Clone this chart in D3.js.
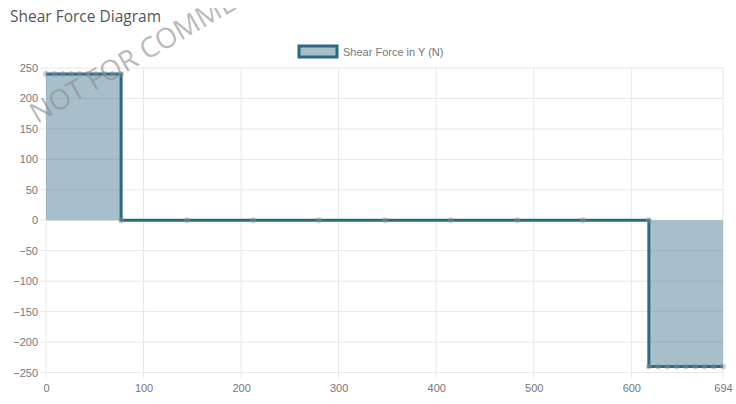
<!DOCTYPE html>
<html><head><meta charset="utf-8">
<script src="https://cdn.jsdelivr.net/npm/d3@7"></script>
<style>
html,body{margin:0;padding:0;background:#fff;}
svg{display:block;}
</style></head>
<body>
<svg id="c" width="736" height="404"></svg>
<script>
const chartTitle = "Shear Force Diagram";
const seriesName = "Shear Force in Y (N)";
const watermark = "NOT FOR COMMERCIAL USE";
const positions = [0, 8.6, 17.1, 25.7, 34.2, 42.8, 51.3, 59.9, 68.4, 77,
                   77, 144.6, 212.2, 279.9, 347.5, 415.1, 482.8, 550.4, 618,
                   618, 627.5, 637, 646.5, 656, 665.5, 675, 684.5, 694];
const shear = [240, 240, 240, 240, 240, 240, 240, 240, 240, 240,
               0, 0, 0, 0, 0, 0, 0, 0, 0,
               -240, -240, -240, -240, -240, -240, -240, -240, -240];
const xTicks = [0, 100, 200, 300, 400, 500, 600, 694];
const yTicks = [250, 200, 150, 100, 50, 0, -50, -100, -150, -200, -250];

const svg = d3.select("#c");
const L = 46, R = 723, T = 68, B = 372.5;
const x = d3.scaleLinear().domain([0, 694]).range([L, R]);
const y = d3.scaleLinear().domain([-250, 250]).range([B, T]);
const lineCol = "#2c6783", fillCol = "rgba(44,103,131,0.42)";
const font = "'Liberation Sans', Arial, sans-serif";

// title
svg.append("text").attr("x", 10).attr("y", 22).text(chartTitle)
  .attr("font-family", "'Open Sans', sans-serif").attr("font-size", 15.5).attr("fill", "#555");

// gridlines
const g = svg.append("g");
g.selectAll(".gy").data(yTicks).join("line")
  .attr("x1", L - 6).attr("x2", R).attr("y1", d => y(d)).attr("y2", d => y(d))
  .attr("stroke", "#e8e8e8").attr("stroke-width", 1);
g.selectAll(".gx").data(xTicks).join("line")
  .attr("x1", d => x(d)).attr("x2", d => x(d)).attr("y1", T).attr("y2", B + 6)
  .attr("stroke", "#e8e8e8").attr("stroke-width", 1);

// axes labels via d3 axes
const yAxis = svg.append("g").attr("transform", `translate(${L - 8},0)`)
  .call(d3.axisLeft(y).tickValues(yTicks).tickSize(0).tickPadding(0));
const xAxis = svg.append("g").attr("transform", `translate(0,${B + 10})`)
  .call(d3.axisBottom(x).tickValues(xTicks).tickSize(0).tickPadding(0).tickFormat(d3.format("d")));
[yAxis, xAxis].forEach(a => {
  a.select(".domain").remove();
  a.selectAll("text").attr("font-family", font).attr("font-size", 11).attr("fill", "#777");
});
xAxis.selectAll("text").attr("dy", "0.9em");

// area
const area = d3.area().x((d, i) => x(positions[i])).y0(y(0)).y1(d => y(d));
svg.append("path").datum(shear).attr("d", area).attr("fill", fillCol);
const line = d3.line().x((d, i) => x(positions[i])).y(d => y(d));
svg.append("path").datum(shear).attr("d", line).attr("fill", "none")
  .attr("stroke", lineCol).attr("stroke-width", 3);
svg.append("g").selectAll("circle").data(shear).join("circle")
  .attr("cx", (d, i) => x(positions[i])).attr("cy", d => y(d)).attr("r", 3)
  .attr("fill", "rgba(130,150,160,0.45)").attr("stroke", "none");

// legend
svg.append("rect").attr("x", 299).attr("y", 46).attr("width", 38).attr("height", 11)
  .attr("fill", fillCol).attr("stroke", lineCol).attr("stroke-width", 3);
svg.append("text").attr("x", 343).attr("y", 55.5).text(seriesName)
  .attr("font-family", font).attr("font-size", 11).attr("fill", "#777");

// watermark (clipped at top like the reference canvas)
svg.append("clipPath").attr("id", "wm").append("rect")
  .attr("x", 0).attr("y", 8).attr("width", 736).attr("height", 396);
svg.append("g").attr("clip-path", "url(#wm)").append("text")
  .attr("transform", "translate(37,124) rotate(-30)")
  .text(watermark).attr("font-family", "'Open Sans', sans-serif").attr("font-size", 28)
  .attr("fill", "rgba(140,140,140,0.6)");
</script>
</body></html>
